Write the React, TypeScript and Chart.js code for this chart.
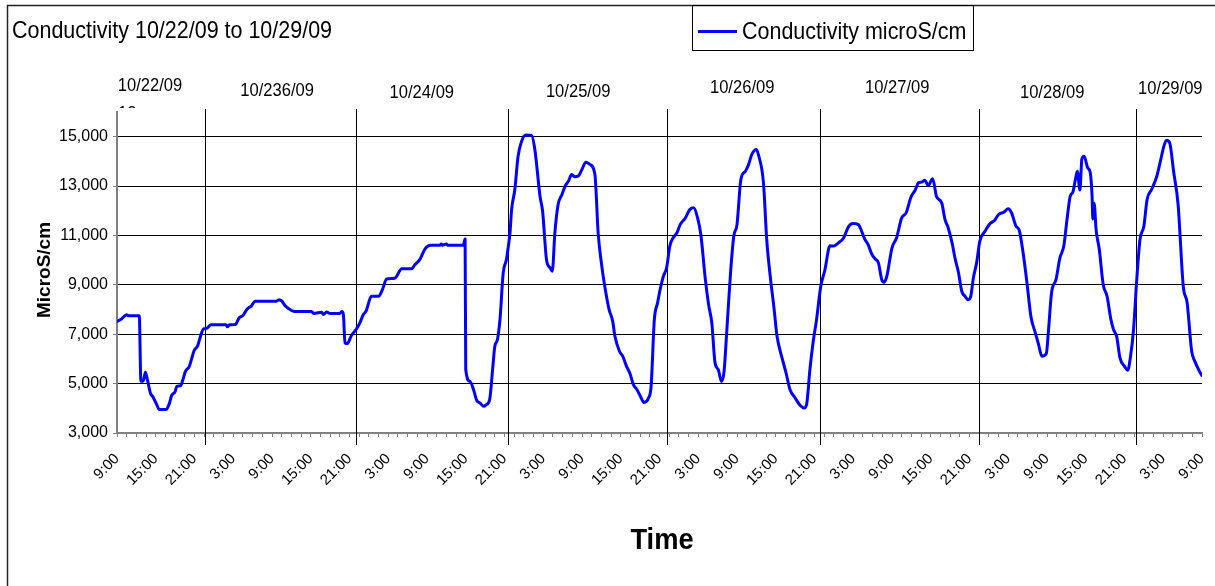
import React, { useEffect, useRef } from "react";
import { Chart, registerables } from "chart.js";

Chart.register(...registerables);

// ---------- data ----------
const titleText = "Conductivity 10/22/09 to 10/29/09";
const seriesName = "Conductivity microS/cm";
const yAxisTitle = "MicroS/cm";
const xAxisTitle = "Time";

// hours elapsed since 10/22/09 9:00
const hours = [
  0.0, 0.7, 1.5, 1.75, 3.45, 3.7, 4.05, 4.4, 4.7, 5.2, 5.6, 6.15, 6.55, 7.6, 8.1, 8.45, 9.0, 9.25, 9.85, 10.2,
  10.6, 11.2, 11.55, 11.9, 12.5, 12.85, 13.4, 13.9, 14.55, 16.9, 17.1, 17.4, 18.3, 18.9, 19.5, 20.1, 20.85, 21.4,
  24.7, 25.1, 25.5, 26.0, 26.8, 27.5, 30.1, 30.5, 30.9, 31.7, 31.95, 32.45, 33.0, 34.5, 34.8, 35.05, 35.3, 35.65,
  36.3, 37.1, 37.6, 38.15, 38.55, 39.4, 40.5, 41.1, 41.75, 43.0, 44.1, 45.6, 46.15, 46.9, 47.7, 48.6, 50.0, 50.2,
  50.4, 51.0, 51.2, 53.6, 53.9, 54.0, 54.65, 55.2, 55.7, 56.2, 56.8, 57.2, 57.7, 58.2, 58.5, 58.9, 59.3, 59.8,
  60.3, 60.6, 60.85, 61.1, 61.6, 62.1, 62.7, 63.3, 64.2, 64.7, 65.5, 65.9, 66.5, 67.05, 67.4, 67.8, 68.3, 68.9,
  69.4, 69.9, 70.4, 70.9, 71.4, 71.95, 72.6, 73.2, 74.0, 74.5, 75.0, 75.7, 76.2, 76.75, 77.1, 77.8, 78.3, 78.9,
  79.4, 79.95, 80.5, 81.0, 81.6, 82.3, 82.7, 83.2, 83.7, 84.1, 84.6, 85.1, 85.6, 86.1, 86.7, 87.2, 88.0, 88.7,
  89.3, 89.9, 90.4, 91.1, 91.6, 92.1, 92.6, 93.1, 93.6, 94.0, 94.4, 95.0, 95.5, 96.0, 96.6, 97.3, 97.8, 98.3,
  99.0, 99.3, 100.1, 100.6, 101.2, 101.7, 102.2, 102.9, 103.6, 104.2, 105.0, 105.8, 106.4, 106.8, 107.3, 107.8,
  108.3, 108.97, 109.6, 110.4, 110.9, 111.7, 112.5, 113.3, 114.0, 114.8, 115.3, 115.8, 116.3, 116.9, 117.4,
  117.9, 118.4, 118.8, 119.2, 120.0, 120.7, 121.5, 122.2, 122.9, 123.6, 124.1, 124.6, 125.1, 125.6, 126.3,
  126.9, 127.7, 128.2, 128.7, 129.3, 129.8, 130.3, 130.8, 131.3, 131.8, 132.2, 132.6, 133.1, 133.6, 134.4,
  135.2, 135.9, 136.5, 137.3, 138.0, 138.5, 139.2, 139.7, 140.3, 140.9, 141.5, 142.2, 142.7, 143.2, 143.9,
  144.2, 144.7, 145.4, 146.0, 146.6, 147.1, 147.6, 148.0, 148.4, 148.7, 149.1, 149.4, 149.75, 150.3, 150.7,
  150.98, 151.1, 151.3, 151.6, 152.1, 152.7, 153.3, 153.9, 154.3, 154.8, 155.3, 156.0, 156.5, 156.9, 157.4,
  157.9, 158.4, 159.0, 159.5, 160.2, 161.0, 161.5, 162.1, 162.5, 163.0, 163.6, 164.3, 165.1, 165.7, 166.4,
  166.9, 167.6, 168.0,
];

// conductivity, microS/cm
const conductivity = [
  7520, 7620, 7790, 7750, 7750, 5100, 5100, 5460, 5160, 4600, 4450, 4150, 3950, 3950, 4190, 4510, 4680, 4890, 4920, 5160,
  5500, 5700, 6000, 6310, 6540, 6850, 7220, 7240, 7380, 7380, 7300, 7380, 7390, 7660, 7760, 8000, 8160, 8340,
  8340, 8400, 8350, 8160, 8000, 7920, 7920, 7840, 7860, 7890, 7800, 7900, 7840, 7840, 7920, 7800, 6650, 6620,
  6950, 7220, 7460, 7800, 7930, 8540, 8540, 8810, 9240, 9270, 9650, 9650, 9820, 10030, 10460, 10600, 10600, 10650,
  10600, 10650, 10600, 10600, 10860, 5570, 5090, 4760, 4320, 4220, 4080, 4150, 4350, 5700, 6510, 6780, 7600, 9485,
  10025, 10570, 11100, 12050, 12860, 14200, 14850, 15070, 15050, 14480, 12590, 11980, 10030, 9690, 9550, 11100, 12250, 12660,
  13000, 13200, 13470, 13380, 13400, 13650, 13970, 13880, 13470, 11100, 9890, 8670, 8000, 7530, 6920, 6310, 6110, 5700,
  5430, 4960, 4760, 4510, 4240, 4420, 4890, 7590, 8270, 8810, 9350, 9690, 10570, 10900, 11110, 11440, 11710, 12050,
  12120, 11710, 11040, 9220, 8200, 7460, 5840, 5570, 5090, 5500, 7050, 9490, 10970, 11440, 13270, 13600, 13880, 14280,
  14480, 14280, 13130, 10840, 9220, 8130, 6920, 6110, 5430, 4760, 4420, 4110, 4010, 4190, 5600, 6700,
  7560, 8940, 9590, 10580, 10570, 10700, 10900, 11370, 11480, 11440, 11170, 10840, 10630, 10230, 10050,
  9890, 9220, 9110, 9350, 10500, 10900, 11710, 11920, 12530, 12840, 13130, 13160, 13240, 13020, 13300,
  12570, 12320, 11650, 11310, 10700, 10030, 9490, 8740, 8540, 8400, 8540, 9280, 9890, 10770, 11170,
  11480, 11620, 11850, 11940, 12080, 11920, 11380, 11210, 10300, 9080, 7730, 7050, 6580, 6110, 6220,
  7050, 8670, 9220, 10090, 10570, 11650, 12590, 12750, 13270, 13600, 12840, 14100, 14210, 13740, 13540,
  12590, 11670, 12300, 11240, 10430, 9010, 8540, 7590, 7190, 6890, 6040, 5700, 5540, 6040, 7190,
  9220, 10840, 11380, 12460, 12860, 13400, 13940, 14620, 14860, 14750, 13600, 12250, 8940, 8270, 6310,
  5900, 5500, 5320,
];

const yTickValues = [3000, 5000, 7000, 9000, 11000, 13000, 15000];
const xTickLabels = [
  "9:00", "15:00", "21:00", "3:00", "9:00", "15:00", "21:00", "3:00", "9:00", "15:00", "21:00", "3:00",
  "9:00", "15:00", "21:00", "3:00", "9:00", "15:00", "21:00", "3:00", "9:00", "15:00", "21:00", "3:00",
  "9:00", "15:00", "21:00", "3:00", "9:00",
];
const dayMarkerHours = [13.6, 37.0, 60.5, 85.2, 108.9, 133.5, 157.8];
const dateLabels = ["10/22/09", "10/236/09", "10/24/09", "10/25/09", "10/26/09", "10/27/09", "10/28/09", "10/29/09"];
const dateLabelHours = [5.1, 24.8, 47.2, 71.4, 96.8, 120.8, 144.8, 163.1];

// ---------- layout / style ----------
const W = 1215;
const H = 586;
const PLOT = { left: 117, top: 112, right: 1202, bottom: 433 };
const dateLabelY = [85, 90, 92, 91, 87, 87, 92, 88];
const FONT = "'Liberation Sans', Arial, sans-serif";
const BLUE = "#0000ff";

function condensedText(
  ctx: CanvasRenderingContext2D,
  text: string,
  x: number,
  y: number,
  font: string,
  sx: number,
  align: CanvasTextAlign,
  baseline: CanvasTextBaseline,
) {
  ctx.save();
  ctx.font = font;
  ctx.fillStyle = "#000";
  ctx.textAlign = align;
  ctx.textBaseline = baseline;
  ctx.translate(x, y);
  ctx.scale(sx, 1);
  ctx.fillText(text, 0, 0);
  ctx.restore();
}

const decorPlugin = {
  id: "decor",
  beforeDatasetsDraw(chart: any) {
    const { ctx, chartArea } = chart;
    const x = chart.scales.x;
    ctx.save();
    ctx.strokeStyle = "#000";
    ctx.lineWidth = 1;
    dayMarkerHours.forEach((h) => {
      const px = Math.round(x.getPixelForValue(h)) + 0.5;
      ctx.beginPath();
      ctx.moveTo(px, chartArea.top - 3);
      ctx.lineTo(px, chartArea.bottom + 12);
      ctx.stroke();
    });
    ctx.restore();
  },
  afterDraw(chart: any) {
    const { ctx } = chart;
    const x = chart.scales.x;
    // outer frame
    ctx.save();
    ctx.strokeStyle = "#222";
    ctx.lineWidth = 1.5;
    ctx.beginPath();
    ctx.moveTo(7.5, H + 2);
    ctx.lineTo(7.5, 5.5);
    ctx.lineTo(W + 2, 5.5);
    ctx.stroke();
    ctx.restore();

    // title
    condensedText(ctx, titleText, 12, 38, `24px ${FONT}`, 0.895, "left", "alphabetic");

    // legend
    ctx.save();
    ctx.strokeStyle = "#000";
    ctx.lineWidth = 1;
    ctx.strokeRect(692.5, 5.5, 281, 45);
    ctx.strokeStyle = BLUE;
    ctx.lineWidth = 3;
    ctx.beginPath();
    ctx.moveTo(698, 31.5);
    ctx.lineTo(737, 31.5);
    ctx.stroke();
    ctx.restore();
    condensedText(ctx, seriesName, 742, 39, `24px ${FONT}`, 0.895, "left", "alphabetic");

    // date labels above the plot
    dateLabels.forEach((t, i) => {
      condensedText(ctx, t, x.getPixelForValue(dateLabelHours[i]), dateLabelY[i] + 1, `18px ${FONT}`, 0.92, "center", "middle");
    });
    // clipped fragment under first date
    ctx.save();
    ctx.beginPath();
    ctx.rect(100, 95, 60, 13);
    ctx.clip();
    condensedText(ctx, "12", 118, 114, `18px ${FONT}`, 0.92, "left", "middle");
    ctx.restore();

    // y axis title
    ctx.save();
    ctx.translate(45, 270);
    ctx.rotate(-Math.PI / 2);
    ctx.font = `bold 19px ${FONT}`;
    ctx.fillStyle = "#000";
    ctx.textAlign = "center";
    ctx.textBaseline = "middle";
    ctx.fillText(yAxisTitle, 0, 0);
    ctx.restore();

    // x axis title
    condensedText(ctx, xAxisTitle, 662, 541, `bold 30px ${FONT}`, 0.91, "center", "middle");
  },
};

export default function App() {
  const ref = useRef<HTMLCanvasElement | null>(null);

  useEffect(() => {
    if (!ref.current) return;
    const data = hours.map((h, i) => ({ x: h, y: conductivity[i] }));
    const chart = new Chart(ref.current, {
      type: "line",
      data: {
        datasets: [
          {
            label: seriesName,
            data,
            borderColor: BLUE,
            backgroundColor: BLUE,
            borderWidth: 3,
            pointRadius: 0,
            cubicInterpolationMode: "monotone",
            borderJoinStyle: "round",
            borderCapStyle: "round",
          },
        ],
      },
      options: {
        animation: false,
        responsive: false,
        devicePixelRatio: 1,
        layout: { padding: { top: PLOT.top, right: W - PLOT.right, bottom: 0, left: 0 } },
        plugins: {
          legend: { display: false },
          title: { display: false },
          tooltip: { enabled: false },
        },
        scales: {
          x: {
            type: "linear",
            min: 0,
            max: 168,
            afterBuildTicks: (axis: any) => {
              const t = [];
              for (let v = 0; v <= 168; v += 1.5) t.push({ value: v });
              axis.ticks = t;
            },
            afterFit: (axis: any) => {
              axis.height = H - PLOT.bottom;
              axis.paddingRight = 0;
              axis.paddingLeft = 0;
            },
            grid: {
              drawOnChartArea: false,
              drawTicks: true,
              tickLength: 4,
              tickColor: "#808080",
            },
            border: { display: true, color: "#808080", width: 2 },
            ticks: {
              autoSkip: false,
              minRotation: 45,
              maxRotation: 45,
              padding: 13,
              color: "#000",
              font: { family: FONT, size: 15 },
              callback: (v: any) => {
                const n = Number(v);
                if (Math.abs(n / 6 - Math.round(n / 6)) < 1e-6) return xTickLabels[Math.round(n / 6)];
                return "";
              },
            },
          },
          y: {
            type: "linear",
            min: 3000,
            max: 16000,
            afterBuildTicks: (axis: any) => {
              axis.ticks = yTickValues.map((v) => ({ value: v }));
            },
            afterFit: (axis: any) => {
              axis.width = PLOT.left;
              axis.paddingTop = 0;
              axis.paddingBottom = 0;
            },
            grid: {
              color: (c: any) => (c.tick && c.tick.value === 3000 ? "rgba(0,0,0,0)" : "#000"),
              lineWidth: 1,
              drawTicks: true,
              tickLength: 4,
              tickColor: "#808080",
            },
            border: { display: true, color: "#808080", width: 2 },
            ticks: {
              padding: 5,
              color: "#000",
              font: { family: FONT, size: 16 },
              callback: (v: any) => Number(v).toLocaleString("en-US"),
            },
          },
        },
      },
      plugins: [decorPlugin],
    });
    return () => chart.destroy();
  }, []);

  return (
    <canvas
      ref={ref}
      width={W}
      height={H}
      style={{ position: "absolute", left: 0, top: 0, width: W, height: H, display: "block" }}
    />
  );
}
